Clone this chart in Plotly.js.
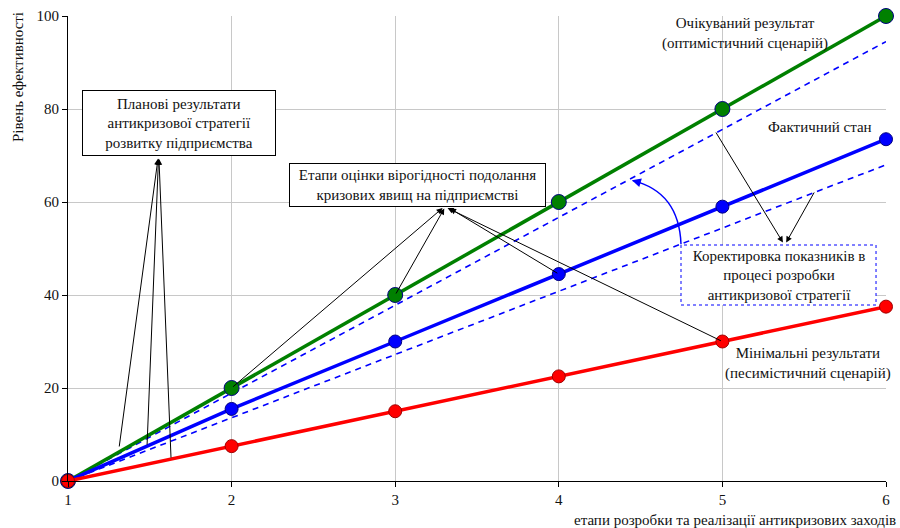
<!DOCTYPE html>
<html>
<head>
<meta charset="utf-8">
<script src="https://cdn.plot.ly/plotly-3.0.1.min.js"></script>
<style>html,body{margin:0;padding:0;background:#fff;}#chart{width:900px;height:528px;}</style>
</head>
<body>
<div id="chart"></div>
<script>
// ---- data ----
const stages = [1, 2, 3, 4, 5, 6];
const expected = [0, 20, 40, 60, 80, 100];          // Очікуваний результат
const actual = [0, 15.5, 30, 44.5, 59, 73.5];       // Фактичний стан
const minimal = [0, 7.5, 15, 22.5, 30, 37.5];       // Мінімальні результати
const corrUpper = [0, 18.9, 37.8, 56.7, 75.6, 94.5]; // коректування (верхня пунктирна)
const corrLower = [0, 13.6, 27.2, 40.8, 54.4, 68];   // коректування (нижня пунктирна)
const yTicks = [0, 20, 40, 60, 80, 100];

const FONT = "'Liberation Serif'";

const traces = [
  {x: stages, y: corrUpper, mode: 'lines', line: {color: '#0000ff', width: 1.6, dash: '6px,5px'}, hoverinfo: 'skip'},
  {x: stages, y: corrLower, mode: 'lines', line: {color: '#0000ff', width: 1.6, dash: '6px,5px'}, hoverinfo: 'skip'},
  {x: stages, y: expected, mode: 'lines+markers', cliponaxis: false, line: {color: '#008000', width: 3.5},
   marker: {color: '#008000', size: 15, line: {color: '#000080', width: 1}}},
  {x: stages, y: actual, mode: 'lines+markers', cliponaxis: false, line: {color: '#0000ff', width: 3.5},
   marker: {color: '#0000ff', size: 13, line: {color: '#000080', width: 1}}},
  {x: stages, y: minimal, mode: 'lines+markers', cliponaxis: false, line: {color: '#ff0000', width: 3.5},
   marker: {color: '#ff0000', size: 13, line: {color: '#a00000', width: 1}}}
];

function arrow(hx, hy, tx, ty, color) {
  return {x: hx, y: hy, ax: tx, ay: ty, xref: 'x', yref: 'y', axref: 'x', ayref: 'y',
    text: '', showarrow: true, arrowhead: 2, arrowsize: 1.2, arrowwidth: 1,
    arrowcolor: color || '#000', standoff: 0, startstandoff: 0};
}

const TF = {family: FONT, size: 15, color: '#111'};

const annotations = [
  // Planned results box arrows
  arrow(1.55, 69.3, 1.312, 7.1),
  arrow(1.553, 69.3, 1.483, 7.5),
  arrow(1.556, 69.3, 1.630, 4.7),
  // Stages box arrows
  arrow(3.29, 58.7, stages[1], expected[1]),
  arrow(3.30, 58.6, stages[2], expected[2]),
  arrow(3.32, 58.7, stages[4], minimal[4]),
  arrow(3.335, 58.6, stages[3], actual[3]),
  // Correction box arrows
  arrow(5.37, 51.3, 4.955, 75.27),
  arrow(5.39, 51.3, 5.566, 62.37),
  // curved arrow head
  {x: 4.447, y: 64.7, xref: 'x', yref: 'y', ax: 10, ay: 3, text: '', showarrow: true,
   arrowhead: 2, arrowsize: 1.2, arrowwidth: 1.5, arrowcolor: '#0000ff', standoff: 0},
  // boxes
  {x: 1.678, y: 77.0, xref: 'x', yref: 'y', showarrow: false,
   text: 'Планові результати<br>антикризової стратегії<br>розвитку підприємства',
   font: TF, bgcolor: '#fff', bordercolor: '#000', borderwidth: 1,
   width: 190, height: 62, align: 'center'},
  {x: 3.136, y: 63.66, xref: 'x', yref: 'y', showarrow: false,
   text: 'Етапи оцінки вірогідності подолання<br>кризових явищ на підприємстві',
   font: TF, bgcolor: '#fff', bordercolor: '#000', borderwidth: 1,
   width: 253, height: 40, align: 'center'},
  {x: 5.343, y: 44.3, xref: 'x', yref: 'y', showarrow: false,
   text: 'Коректировка показників в<br>процесі розробки<br>антикризової стратегії',
   font: TF, width: 190, height: 56, align: 'center'},
  // labels
  {x: 5.138, y: 96.3, xref: 'x', yref: 'y', showarrow: false,
   text: 'Очікуваний результат<br>(оптимістичний сценарій)', font: TF},
  {x: 5.597, y: 76.1, xref: 'x', yref: 'y', showarrow: false,
   text: 'Фактичний стан', font: TF},
  {x: 5.525, y: 25.2, xref: 'x', yref: 'y', showarrow: false,
   text: 'Мінімальні результати<br>(песимістичний сценарій)', font: TF},
  // axis titles
  {xref: 'paper', yref: 'paper', x: 0, y: 1, xshift: -50, yshift: 6, xanchor: 'center', yanchor: 'top',
   textangle: -90, showarrow: false, text: 'Рівень ефективності', font: TF},
  {xref: 'paper', yref: 'paper', x: 1, y: 0, xshift: 12, yshift: -39, xanchor: 'right', yanchor: 'middle',
   showarrow: false, text: 'етапи розробки та реалізації антикризових заходів', font: TF}
];

const shapes = [
  {type: 'rect', xref: 'x', yref: 'y', x0: 4.747, x1: 5.939, y0: 37.85, y1: 50.75,
   line: {color: '#0000ff', width: 1, dash: 'dot'}, fillcolor: '#fff', layer: 'above'},
  {type: 'path', xref: 'x', yref: 'y', path: 'M 4.747,50.9 Q 4.735,62.15 4.452,64.6',
   line: {color: '#0000ff', width: 1.5}, layer: 'above'}
];

const layout = {
  width: 900, height: 528,
  margin: {l: 68, r: 14, t: 16, b: 47},
  paper_bgcolor: '#fff', plot_bgcolor: '#fff',
  showlegend: false,
  font: TF,
  xaxis: {range: [1, 6], tickvals: stages, showgrid: true, gridcolor: '#c8c8c8', gridwidth: 1,
    showline: true, linecolor: '#000', linewidth: 1, ticks: 'outside', ticklen: 5, tickcolor: '#000',
    zeroline: false, tickfont: TF, fixedrange: true},
  yaxis: {range: [0, 100], tickvals: yTicks, showgrid: true, gridcolor: '#c8c8c8', gridwidth: 1,
    showline: true, linecolor: '#000', linewidth: 1, ticks: 'outside', ticklen: 5, tickcolor: '#000',
    zeroline: false, tickfont: TF, fixedrange: true},
  annotations: annotations,
  shapes: shapes
};

Plotly.newPlot('chart', traces, layout, {displayModeBar: false, staticPlot: true});
</script>
</body>
</html>
